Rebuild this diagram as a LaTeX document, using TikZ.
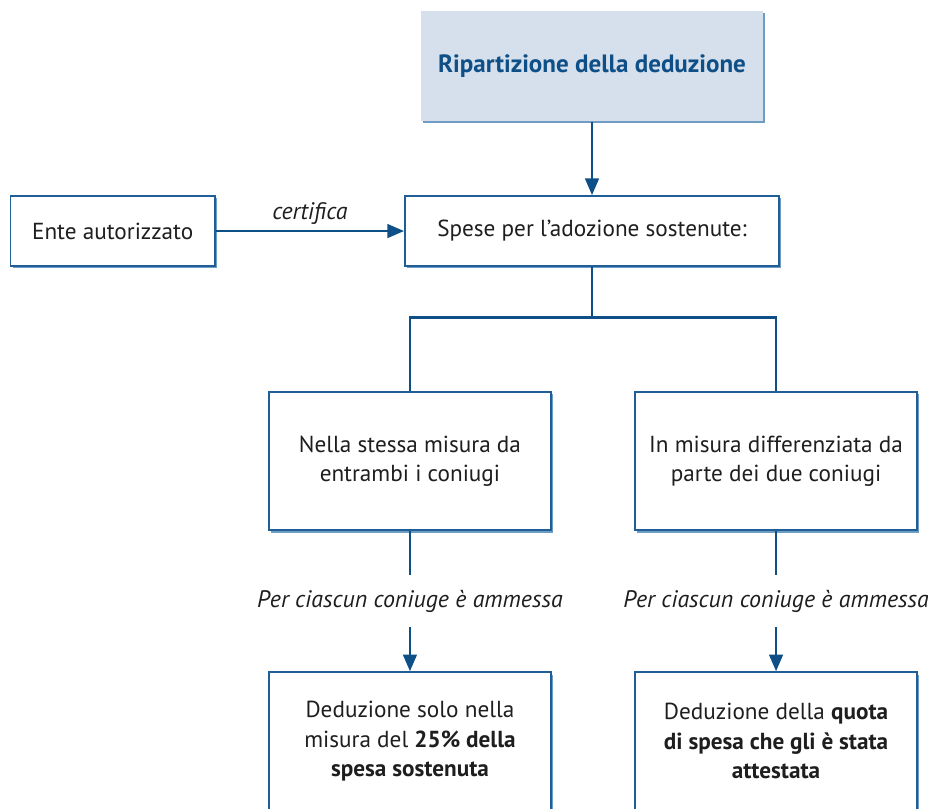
\documentclass[tikz,border=0pt]{standalone}
\usepackage{fontspec}
\setmainfont{PT Sans}
\usetikzlibrary{arrows.meta,shadows}

\definecolor{boxblue}{HTML}{1F5E96}
\definecolor{lineblue}{HTML}{0D4F86}
\definecolor{headfill}{HTML}{D6DFEC}
\definecolor{shadeblue}{HTML}{6E9CC2}
\definecolor{textgray}{HTML}{1E1E1E}

\tikzset{
  box/.style={draw=boxblue, line width=1.2pt, fill=white, rectangle, align=center,
    text=textgray, inner sep=0pt,
    drop shadow={shadow xshift=0.06cm, shadow yshift=-0.06cm, fill=shadeblue, opacity=1}},
  headbox/.style={box, draw=none, fill=headfill, text=lineblue, font=\fontsize{17.8pt}{21pt}\selectfont\bfseries},
  link/.style={draw=lineblue, line width=2pt},
  note/.style={inner sep=0pt, text=textgray, font=\fontsize{17pt}{21pt}\selectfont\itshape},
  >={Triangle[length=0.42cm, width=0.34cm]}
}

\begin{document}
\begin{tikzpicture}[x=0.025cm, y=-0.025cm, font=\fontsize{16.5pt}{20.8pt}\selectfont]
    \useasboundingbox (0,0) rectangle (928,809);

    \node[headbox, minimum width=8.55cm, minimum height=2.75cm] (ripart) at (592,66) {Ripartizione della deduzione};
    \node[box, below of=ripart, node distance=4.125cm, minimum width=9.35cm, minimum height=1.75cm] (spese) {Spese per l’adozione sostenute:};
    \node[box, left of=spese, node distance=11.98cm, minimum width=5.1cm, minimum height=1.75cm] (ente) {Ente autorizzato};

    \node[box, below of=spese, node distance=5.75cm, xshift=-4.55cm, minimum width=7.05cm, minimum height=3.45cm] (stessa) {Nella stessa misura da\\entrambi i coniugi};
    \node[box, below of=spese, node distance=5.75cm, xshift=4.6cm, minimum width=7.05cm, minimum height=3.45cm] (diff) {In misura differenziata da\\parte dei due coniugi};

    \node[note, below of=stessa, node distance=3.5cm, minimum height=1.3cm] (perL) {Per ciascun coniuge è ammessa};
    \node[note, below of=diff, node distance=3.5cm, minimum height=1.3cm] (perR) {Per ciascun coniuge è ammessa};

    \node[box, below of=stessa, node distance=7cm, minimum width=7.05cm, minimum height=3.45cm] (quarto) {Deduzione solo nella\\misura del \textbf{25\% della}\\\textbf{spesa sostenuta}};
    \node[box, below of=diff, node distance=7cm, minimum width=7.05cm, minimum height=3.45cm] (quota) {Deduzione della \textbf{quota}\\\textbf{di spesa che gli è stata}\\\textbf{attestata}};

    \draw[link, ->] (ripart) -- (spese);
    \draw[link, ->] (ente) -- (spese) node[midway, above=0.12cm, note] {certifica};
    \draw[link] (spese.south) -- ++(0,51) -| (stessa.north);
    \draw[link] (spese.south) -- ++(0,51) -| (diff.north);
    \draw[link] (stessa) -- (perL);
    \draw[link] (diff) -- (perR);
    \draw[link, ->] (perL) -- (quarto);
    \draw[link, ->] (perR) -- (quota);
\end{tikzpicture}
\end{document}
